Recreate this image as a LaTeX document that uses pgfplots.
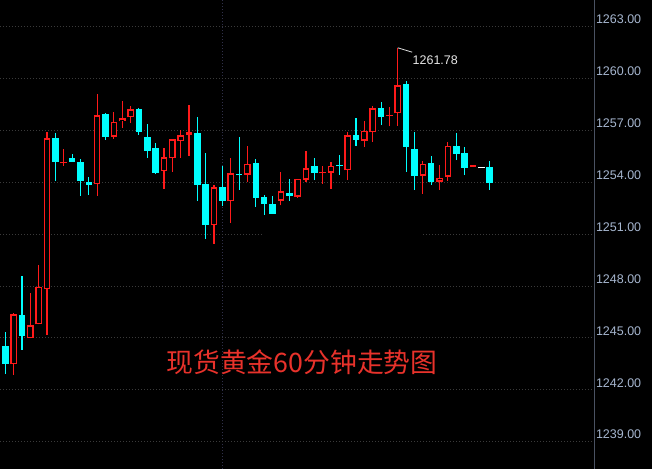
\documentclass[border=0pt]{standalone}
\usepackage{fontspec}
\setmainfont{Liberation Sans}
\newfontfamily\cjk{Noto Sans CJK SC}
\usepackage{pgfplots}
\pgfplotsset{compat=1.18}
\usepackage{pgfplotstable}

\definecolor{upred}{HTML}{FF1A1A}
\definecolor{dncyan}{HTML}{00FFFF}
\definecolor{gridc}{HTML}{3A3A3A}
\definecolor{vgridc}{HTML}{30304A}
\definecolor{axc}{HTML}{4A5262}
\definecolor{tickc}{HTML}{A6B6CF}
\definecolor{titlec}{HTML}{E8322B}

% up (red, hollow) candles: index open high low close
\pgfplotstableread{
i o h l c
2 1243.47 1246.44 1242.87 1246.37
4 1244.98 1247.60 1244.98 1245.73
5 1245.79 1249.22 1245.79 1247.95
6 1247.81 1256.91 1245.19 1256.55
8 1255.10 1255.93 1254.96 1255.17
12 1253.88 1259.11 1253.23 1257.88
14 1256.64 1258.07 1256.52 1257.49
15 1257.53 1258.70 1257.14 1257.70
16 1257.76 1258.41 1257.45 1258.22
20 1254.64 1255.98 1253.63 1255.45
21 1255.39 1256.49 1254.61 1256.49
22 1256.37 1257.03 1255.42 1256.72
23 1256.74 1258.47 1255.54 1256.89
26 1251.51 1253.83 1250.45 1253.71
28 1252.90 1255.41 1251.66 1254.52
30 1254.45 1256.10 1254.02 1255.06
34 1252.94 1254.60 1252.67 1253.48
36 1253.17 1254.22 1253.11 1254.19
37 1254.15 1255.81 1254.04 1254.81
39 1254.52 1254.94 1253.92 1254.56
40 1254.56 1255.17 1253.63 1254.94
42 1254.69 1256.91 1254.13 1256.72
44 1256.41 1257.56 1256.06 1256.97
45 1256.89 1258.41 1256.35 1258.28
47 1257.83 1258.34 1257.24 1257.87
48 1257.99 1261.78 1257.26 1259.61
51 1254.38 1255.23 1253.35 1255.06
53 1254.04 1255.00 1253.58 1254.24
54 1254.32 1256.32 1254.09 1256.09
57 1254.91 1254.95 1254.91 1254.95
}\upT

% down (cyan, filled) candles
\pgfplotstableread{
i o h l c
1 1244.53 1245.34 1242.93 1243.51
3 1246.33 1248.58 1244.32 1245.13
7 1256.55 1256.85 1254.09 1255.19
9 1255.41 1255.64 1255.19 1255.19
10 1255.17 1255.35 1253.23 1254.09
11 1254.02 1254.31 1253.28 1253.86
13 1257.95 1258.00 1256.46 1256.64
17 1258.24 1258.30 1256.75 1256.93
18 1256.62 1257.37 1255.42 1255.83
19 1255.98 1256.27 1254.48 1254.56
24 1256.85 1257.78 1252.94 1253.86
25 1253.90 1255.70 1250.74 1251.55
27 1253.73 1254.94 1252.65 1252.94
29 1254.45 1256.62 1253.57 1254.41
31 1255.12 1255.35 1252.59 1253.11
32 1253.15 1253.25 1252.13 1252.76
33 1252.75 1253.21 1252.18 1252.18
35 1253.40 1254.19 1252.94 1253.23
38 1254.94 1255.41 1254.13 1254.56
41 1254.96 1255.58 1254.45 1254.92
43 1256.74 1257.72 1256.10 1256.46
46 1258.30 1258.64 1257.31 1257.79
49 1259.69 1259.88 1254.61 1256.06
50 1255.93 1256.91 1253.56 1254.38
52 1255.11 1255.52 1253.87 1254.04
55 1256.10 1256.85 1255.29 1255.65
56 1255.70 1256.04 1254.42 1254.85
59 1254.89 1255.23 1253.56 1253.98
}\dnT

% unchanged (white) candle
\pgfplotstableread{
i o h l c
58 1254.81 1254.81 1254.81 1254.81
}\flatT

\begin{document}
\begin{tikzpicture}
\path[use as bounding box, fill=black] (0,0) rectangle (652bp,469bp);
\begin{axis}[
  at={(0,0)}, anchor=south west,
  scale only axis, width=594.3bp, height=469bp,
  xmin=0.3653, xmax=71.539, ymin=1237.419, ymax=1264.544,
  axis line style={draw=none},
  major tick length=0pt,
  ytick={1239,1242,...,1263},
  yticklabel pos=right,
  yticklabel={\pgfmathprintnumber[fixed,fixed zerofill,precision=2,1000 sep={},assume math mode=true]{\tick}},
  yticklabel style={anchor=base west, inner sep=0pt, xshift=1.5bp, yshift=2.7bp,
    font=\fontsize{12.5bp}{14bp}\selectfont, text=tickc},
  xtick={27}, xticklabels={},
  xmajorgrids, ymajorgrids,
  y grid style={gridc, line width=1bp, dash pattern=on 1bp off 2bp},
  x grid style={vgridc, line width=1bp, dash pattern=on 1bp off 2bp},
]
% cyan candles
\addplot[dncyan, line width=1.1bp, mark=none, quiver={u=0, v=\thisrow{h}-\thisrow{l}}]
  table[x=i, y=l]{\dnT};
\addplot[dncyan, line width=6.6bp, mark=none, quiver={u=0, v={max(\thisrow{o}-\thisrow{c},0.07)}}]
  table[x=i, y=c]{\dnT};
% red candles
\addplot[upred, line width=1.2bp, mark=none, quiver={u=0, v=\thisrow{h}-\thisrow{l}}]
  table[x=i, y=l]{\upT};
\addplot[upred, line width=6.6bp, mark=none, quiver={u=0, v={max(\thisrow{c}-\thisrow{o},0.07)}}]
  table[x=i, y=o]{\upT};
\addplot[black, line width=4.0bp, mark=none, quiver={u=0, v={max(\thisrow{c}-\thisrow{o}-0.15,0)}}]
  table[x=i, y expr=\thisrow{o}+0.075]{\upT};
% flat candle
\addplot[white, line width=6.6bp, mark=none, quiver={u=0, v=0.07}]
  table[x=i, y=o]{\flatT};
% high marker
\draw[white!88!black, line width=0.8bp] (axis cs:48,1261.78) -- ++(14.4bp,-4.4bp);
\node[anchor=west, inner sep=0pt, text=white!90!black, font=\fontsize{12.5bp}{14bp}\selectfont]
  at ([xshift=14.7bp, yshift=-12.7bp]axis cs:48,1261.78) {1261.78};
\end{axis}
\fill[black] (264bp,229bp) rectangle (422bp,240bp);
\draw[axc, line width=1bp] (594.3bp,0) -- (594.3bp,469bp);
\node[text=titlec, font=\cjk\fontsize{26.8bp}{30bp}\selectfont] at (302bp,107bp) {现货黄金60分钟走势图};
\end{tikzpicture}
\end{document}
